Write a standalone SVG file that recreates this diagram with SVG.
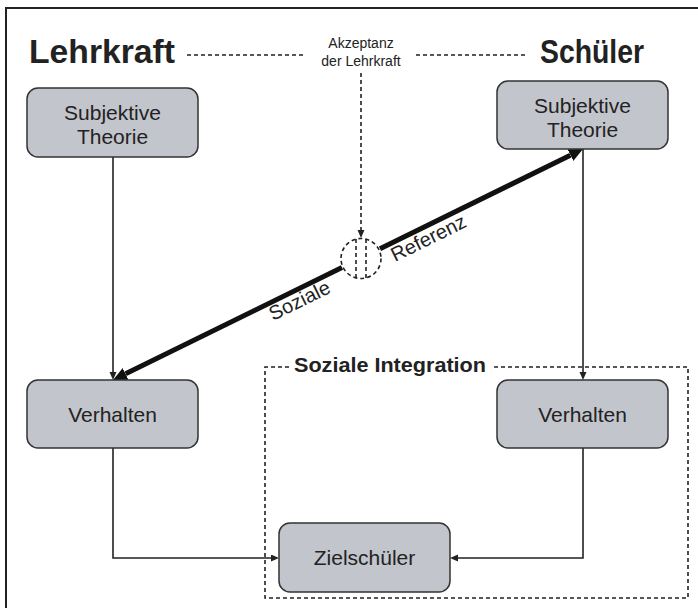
<svg xmlns="http://www.w3.org/2000/svg" width="698" height="608" viewBox="0 0 698 608">
<style>
text{font-family:"Liberation Sans",Arial,sans-serif;fill:#222}
.box{fill:#c3c5cc;stroke:#333;stroke-width:1.5}
.lbl{font-size:21px;text-anchor:middle}
.head{font-size:33px;font-weight:bold}
.thin{fill:none;stroke:#222;stroke-width:1.6}
.thick{fill:none;stroke:#111;stroke-width:5}
.dash{fill:none;stroke:#222;stroke-width:1.6;stroke-dasharray:4 3}
</style>
<defs>
<marker id="ah" markerUnits="userSpaceOnUse" markerWidth="9" markerHeight="8" refX="0" refY="3.5" orient="auto"><path d="M0,0 L8,3.5 L0,7 z" fill="#222"/></marker>
<marker id="ahBig" markerUnits="userSpaceOnUse" markerWidth="15" markerHeight="14" refX="0" refY="6.5" orient="auto"><path d="M0,0 L14,6.5 L0,13 z" fill="#111"/></marker>
</defs>
<rect x="6" y="8" width="720" height="640" fill="#fff" stroke="#222" stroke-width="2"/>
<text class="head" x="29" y="63" textLength="146" lengthAdjust="spacingAndGlyphs">Lehrkraft</text>
<text class="head" x="540" y="63" textLength="104" lengthAdjust="spacingAndGlyphs">Schüler</text>
<text x="361" y="48" font-size="14" text-anchor="middle">Akzeptanz</text>
<text x="361" y="66" font-size="14" text-anchor="middle">der Lehrkraft</text>
<g id="connectors">
<path class="dash" d="M187,55 H305 M416,55 H525"/>
<path class="dash" d="M361,73 V230" marker-end="url(#ah)"/>
<circle class="dash" cx="361" cy="258.5" r="20"/>
<path class="dash" d="M356,239 V278 M366,239 V278"/>
<path class="thick" d="M342,267.4 L125.6,373.8" marker-end="url(#ahBig)"/>
<path class="thick" d="M380,248.8 L570.4,155.2" marker-end="url(#ahBig)"/>
<path class="thin" d="M113,157 V372" marker-end="url(#ah)"/>
<path class="thin" d="M583,149 V372" marker-end="url(#ah)"/>
<path class="thin" d="M113,448 V558 H271" marker-end="url(#ah)"/>
<path class="thin" d="M583,448 V558 H458" marker-end="url(#ah)"/>
<text x="273" y="321" font-size="20" transform="rotate(-26.17 273 321)">Soziale</text>
<text x="395" y="262" font-size="20" transform="rotate(-26.17 395 262)">Referenz</text>
</g>
<g id="integration">
<path class="dash" d="M289,367 H265 V598 H688 V367 H494"/>
<text x="294" y="372" font-size="20" font-weight="bold" textLength="192" lengthAdjust="spacingAndGlyphs">Soziale Integration</text>
</g>
<g id="lehrkraft-theorie"><rect class="box" x="27" y="88" width="171" height="69" rx="11"/><text class="lbl" x="112.5" y="120">Subjektive</text><text class="lbl" x="112.5" y="144">Theorie</text></g>
<g id="schueler-theorie"><rect class="box" x="497" y="81" width="171" height="68" rx="11"/><text class="lbl" x="582.5" y="113">Subjektive</text><text class="lbl" x="582.5" y="137">Theorie</text></g>
<g id="lehrkraft-verhalten"><rect class="box" x="27" y="380" width="171" height="68" rx="11"/><text class="lbl" x="112.5" y="422">Verhalten</text></g>
<g id="schueler-verhalten"><rect class="box" x="497" y="380" width="171" height="68" rx="11"/><text class="lbl" x="582.5" y="422">Verhalten</text></g>
<g id="zielschueler"><rect class="box" x="279" y="523" width="171" height="69" rx="11"/><text class="lbl" x="364.5" y="565">Zielschüler</text></g>
</svg>
